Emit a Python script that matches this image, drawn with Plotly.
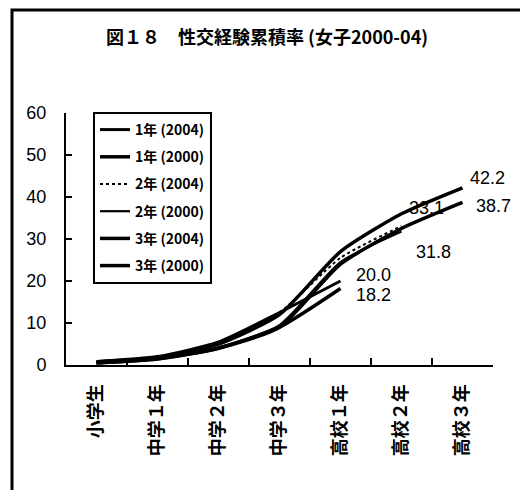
import plotly.graph_objects as go

categories = ["小学生", "中学１年", "中学２年", "中学３年", "高校１年", "高校２年", "高校３年"]

series_names = ["1年 (2004)", "1年 (2000)", "2年 (2004)", "2年 (2000)", "3年 (2004)", "3年 (2000)"]
y1_2004 = [0.8, 2.0, 5.5, 12.5, 20.0]
y1_2000 = [0.5, 1.4, 4.0, 9.0, 18.2]
y2_2004 = [0.8, 1.8, 5.5, 12.5, 25.5, 33.1]
y2_2000 = [0.6, 1.5, 4.2, 9.5, 24.5, 31.8]
y3_2004 = [0.8, 1.8, 5.0, 12.0, 27.0, 36.0, 42.2]
y3_2000 = [0.5, 1.5, 4.0, 9.0, 24.0, 32.5, 38.7]
series_values = [y1_2004, y1_2000, y2_2004, y2_2000, y3_2004, y3_2000]

y_ticks = [0, 10, 20, 30, 40, 50, 60]
title_text = "図１８　性交経験累積率 (女子2000-04)"

FONT = "Liberation Sans, Arial, Noto Sans CJK JP"
CJK = "Noto Sans CJK JP, Liberation Sans"

styles = [
    dict(width=3, dash="solid"),
    dict(width=3.5, dash="solid"),
    dict(width=2, dash="dot"),
    dict(width=2.2, dash="solid"),
    dict(width=3.5, dash="solid"),
    dict(width=3.5, dash="solid"),
]

fig = go.Figure()
for i, (name, vals) in enumerate(zip(series_names, series_values)):
    fig.add_trace(go.Scatter(
        x=categories[:len(vals)], y=vals, name=name, mode="lines",
        line=dict(color="black", shape="spline", smoothing=0.6, **styles[i]),
        legendgroup=f"g{i}",
    ))

# end-value labels: (series index, xshift, yshift)
label_offsets = [(0, 13, 6), (1, 13, -6), (2, 5, 18), (3, 12, -21), (4, 5, 10), (5, 11, -4)]
for idx, xs, ys in label_offsets:
    vals = series_values[idx]
    fig.add_annotation(
        x=categories[len(vals) - 1], y=vals[-1], xref="x", yref="y",
        text=f"{vals[-1]:.1f}", showarrow=False, xanchor="left", yanchor="middle",
        xshift=xs, yshift=ys, font=dict(family=FONT, size=18, color="black"),
    )

W, H = 520, 490
L, R, T, B = 66, 27, 113, 125
pw, ph = W - L - R, H - T - B

def px_x(p):
    return (p - L) / pw

def px_y(p):
    return (H - B - p) / ph

# outer frame (runs off the right and bottom edges like the scan)
fig.add_shape(type="rect", xref="paper", yref="paper",
              x0=px_x(12), x1=px_x(540), y0=px_y(10), y1=px_y(520),
              line=dict(color="black", width=3), fillcolor="rgba(0,0,0,0)", layer="below")

fig.add_annotation(
    x=px_x(267), y=px_y(36), xref="paper", yref="paper", text=f"<b>{title_text}</b>",
    showarrow=False, xanchor="center", yanchor="middle",
    font=dict(family=CJK, size=18, color="black"),
)

fig.update_layout(
    width=W, height=H,
    margin=dict(l=L, r=R, t=T, b=B),
    paper_bgcolor="white", plot_bgcolor="white",
    showlegend=True,
    legend=dict(
        x=px_x(93), y=px_y(112), xanchor="left", yanchor="top",
        bordercolor="black", borderwidth=2, bgcolor="white",
        font=dict(family=CJK, size=14, color="black", weight="bold"),
        tracegroupgap=6, itemwidth=30,
    ),
    xaxis=dict(
        type="category", categoryorder="array", categoryarray=categories,
        range=[-0.5, 6.5], showgrid=False, zeroline=False,
        showline=True, linecolor="black", linewidth=2,
        ticks="inside", tickson="boundaries", ticklen=7, tickwidth=1.5, tickcolor="black",
        tickangle=-90, tickfont=dict(family=CJK, size=18, color="black", weight="bold"),
        ticklabelstandoff=10,
    ),
    yaxis=dict(
        range=[0, 60], tickvals=y_ticks, showgrid=False, zeroline=False,
        showline=True, linecolor="black", linewidth=2,
        ticks="inside", ticklen=6, tickwidth=1.5, tickcolor="black",
        tickfont=dict(family=FONT, size=18, color="black"),
        ticklabelstandoff=14,
    ),
)

fig.write_html("out.html")
